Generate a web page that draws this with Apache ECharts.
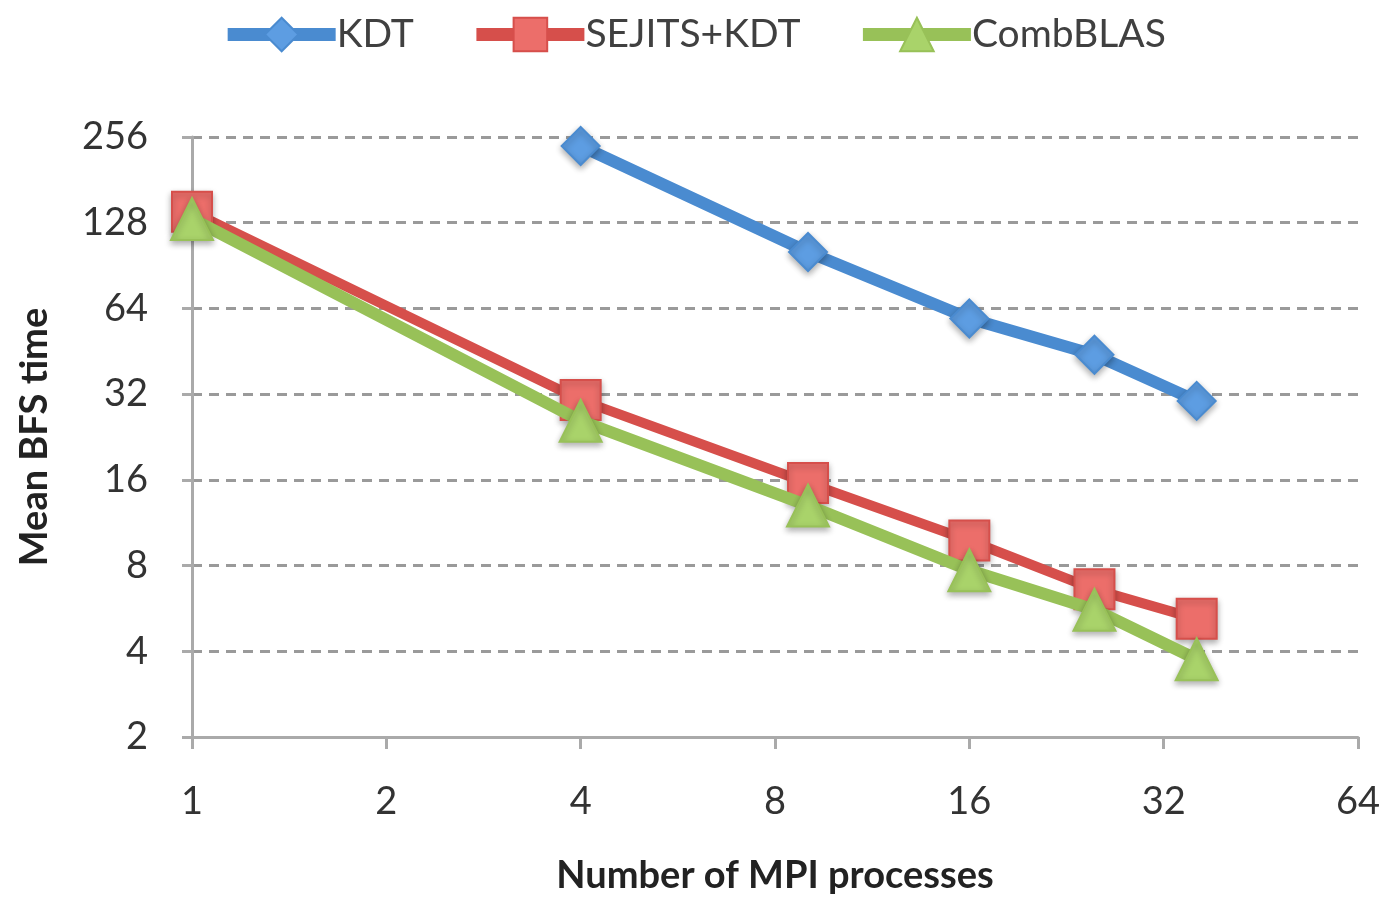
<!DOCTYPE html>
<html>
<head>
<meta charset="utf-8">
<script src="https://cdn.jsdelivr.net/npm/echarts@6/dist/echarts.min.js"></script>
<style>html,body{margin:0;padding:0;background:#fff}#c{width:1387px;height:900px}</style>
</head>
<body>
<div id="c"></div>
<script>
const processes = [1, 4, 9, 16, 25, 36];
const kdt = [null, 238, 101, 59, 44, 30.3];
const sejitsKdt = [140, 30.5, 15.6, 9.8, 6.6, 5.2];
const combBlas = [132, 25.8, 13, 7.7, 5.6, 3.75];
const xTicks = [1, 2, 4, 8, 16, 32, 64];
const yTicks = [2, 4, 8, 16, 32, 64, 128, 256];

const FONT = 'Lato';
const pairs = arr => processes.map((p, i) => [p, arr[i]]).filter(d => d[1] != null);
const shadow = {shadowBlur: 6, shadowColor: 'rgba(0,0,0,0.3)', shadowOffsetY: 3};

const chart = echarts.init(document.getElementById('c'));
chart.setOption({
  animation: false,
  backgroundColor: '#fff',
  legend: {
    top: 10, left: 'center',
    itemWidth: 108, itemHeight: 42, itemGap: 56,
    lineStyle: {width: 13},
    textStyle: {fontFamily: FONT, fontSize: 39, color: '#404040', padding: [0, 0, 0, -4]},
    data: ['KDT', 'SEJITS+KDT', 'CombBLAS']
  },
  grid: {left: 192, right: 29, top: 137, bottom: 161},
  xAxis: {
    type: 'log', logBase: 2, min: xTicks[0], max: xTicks[xTicks.length - 1], splitNumber: 6,
    name: 'Number of MPI processes', nameLocation: 'middle', nameGap: 120,
    nameTextStyle: {fontFamily: FONT, fontSize: 38, fontWeight: 'bold', color: '#222'},
    axisLine: {lineStyle: {color: '#aaa', width: 3}},
    axisTick: {show: true, length: 12, lineStyle: {color: '#aaa', width: 3}},
    axisLabel: {fontFamily: FONT, fontSize: 38, color: '#333', margin: 46,
      formatter: v => String(Math.round(v))},
    splitLine: {show: false}
  },
  yAxis: {
    type: 'log', logBase: 2, min: yTicks[0], max: yTicks[yTicks.length - 1], splitNumber: 7,
    name: 'Mean BFS time', nameLocation: 'middle', nameGap: 138, nameRotate: 90,
    nameTextStyle: {fontFamily: FONT, fontSize: 38, fontWeight: 'bold', color: '#222'},
    axisLine: {show: true, lineStyle: {color: '#aaa', width: 3}},
    axisTick: {show: true, length: 10, inside: false, lineStyle: {color: '#aaa', width: 3}},
    axisLabel: {fontFamily: FONT, fontSize: 38, color: '#333', margin: 44,
      formatter: v => String(Math.round(v))},
    splitLine: {show: true, lineStyle: {color: '#9a9a9a', width: 3, type: [10, 7]}}
  },
  series: [
    {
      name: 'KDT', type: 'line', data: pairs(kdt),
      symbol: 'diamond', symbolSize: 38,
      lineStyle: {color: '#4a8bd0', width: 12},
      itemStyle: Object.assign({color: '#5d9de2', borderColor: '#4a8bd0', borderWidth: 2}, shadow),
      z: 2
    },
    {
      name: 'SEJITS+KDT', type: 'line', data: pairs(sejitsKdt),
      symbol: 'rect', symbolSize: 40,
      lineStyle: {color: '#d64f4b', width: 10},
      itemStyle: Object.assign({color: '#ec6e6a', borderColor: '#d64f4b', borderWidth: 2}, shadow),
      z: 3
    },
    {
      name: 'CombBLAS', type: 'line', data: pairs(combBlas),
      symbol: 'triangle', symbolSize: 42,
      lineStyle: {color: '#98c158', width: 12},
      itemStyle: Object.assign({color: '#a9d36a', borderColor: '#98c158', borderWidth: 2}, shadow),
      z: 4
    }
  ]
});
</script>
</body>
</html>
